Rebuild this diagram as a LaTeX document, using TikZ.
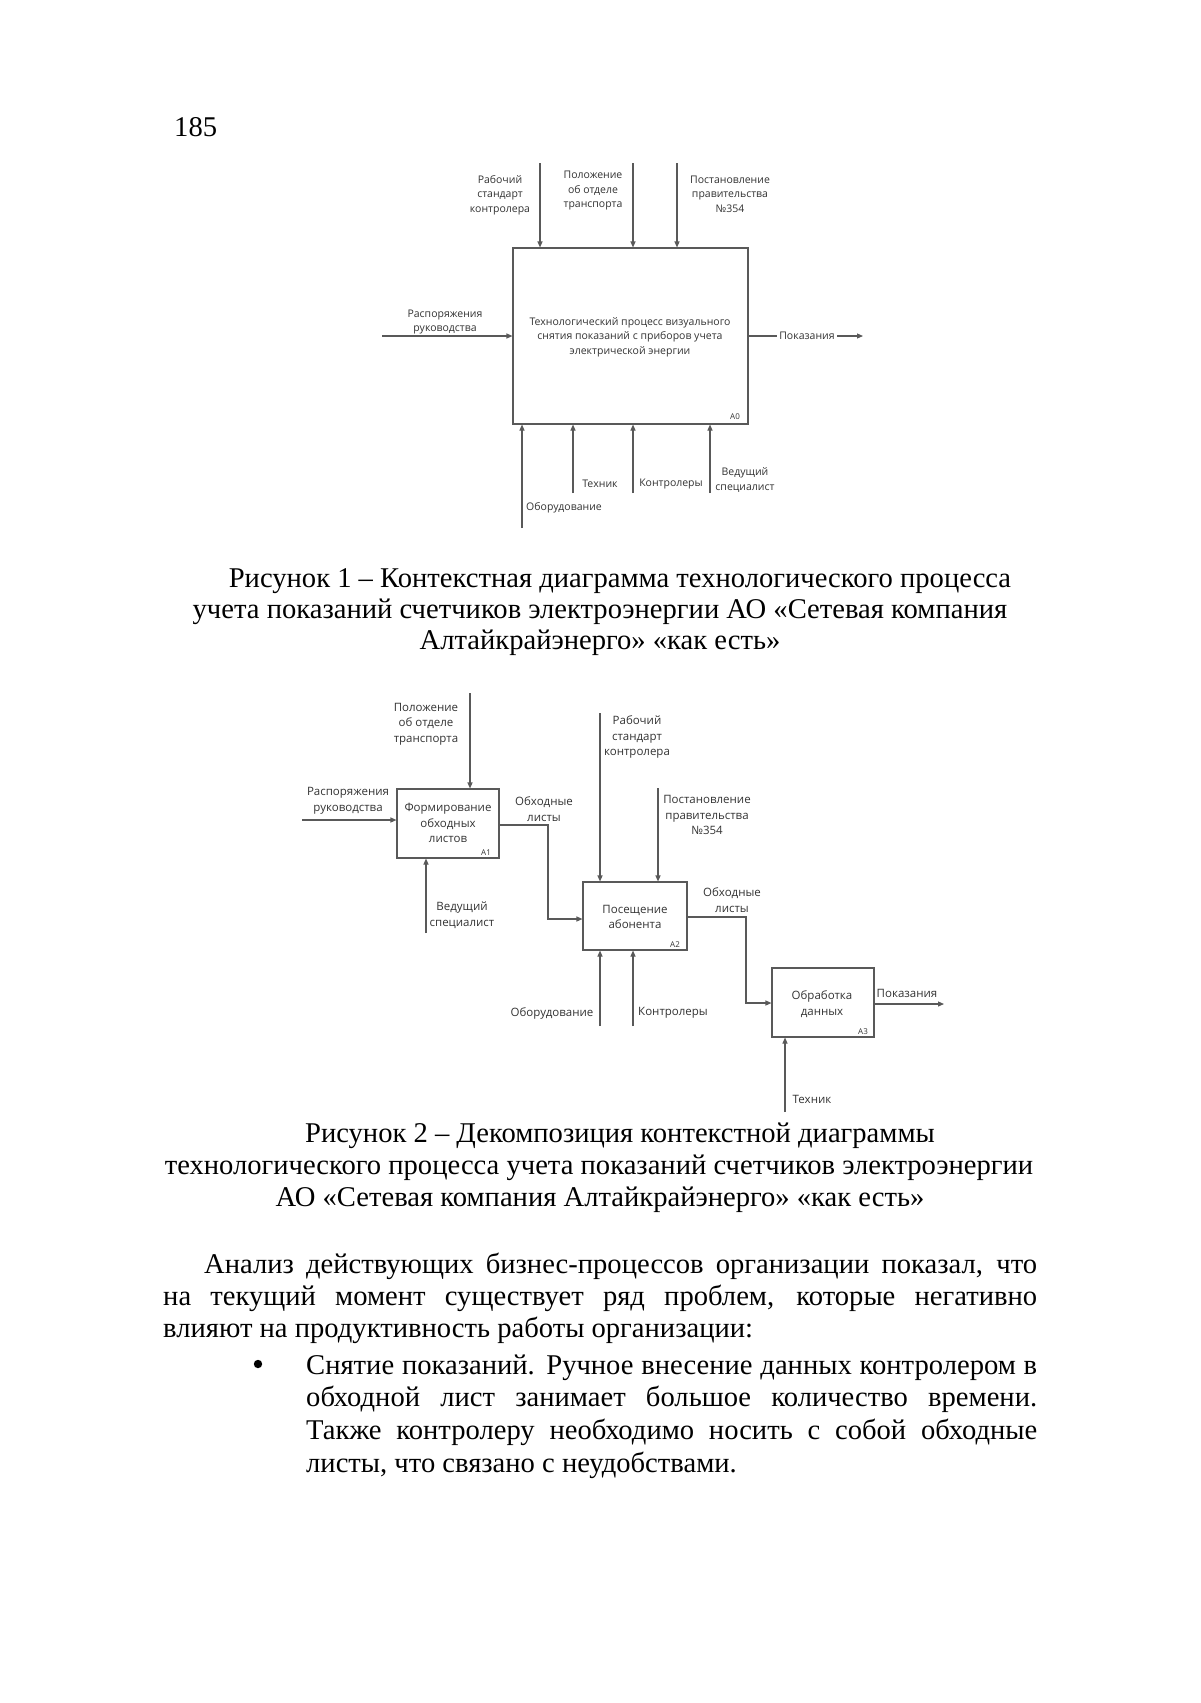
\documentclass[tikz,border=0pt]{standalone}
\usepackage{fontspec}
\setmainfont{Liberation Serif}
\newfontfamily\dfont{Open Sans}
\usetikzlibrary{arrows.meta}
\tikzset{
  ln/.style={draw=black!65, line width=1.1pt},
  arr/.style={ln, -{Triangle[length=6pt,width=5pt]}},
  fbox/.style={draw=black!65, line width=1.1pt, rectangle, inner sep=0pt},
  lblB/.style={font=\dfont\fontsize{11.5}{15.5}\selectfont, text=black!80, align=center, inner sep=0pt},
  lblA/.style={font=\dfont\fontsize{10.5}{14.5}\selectfont, text=black!80, align=center, inner sep=0pt},
  tagB/.style={font=\dfont\fontsize{8}{9}\selectfont, text=black!80, inner sep=0pt},
  pg/.style={font=\fontsize{28.6}{32}\selectfont, inner sep=0pt, anchor=base west},
  capt/.style={font=\fontsize{28.6}{32}\selectfont, inner sep=0pt, anchor=base},
}
\begin{document}
\begin{tikzpicture}[x=1pt,y=-1pt]
\useasboundingbox[fill=white] (0,0) rectangle (1200,1703);

% page number
\node[pg] (pnum) at (174,136) {185};

% ===== Diagram 1 =====
\node[fbox, minimum width=235pt, minimum height=176pt] (A0) at (630.5,336) {};
\node[lblA] (A0t) at (630,337) {Технологический процесс визуального\\снятия показаний с приборов учета\\электрической энергии};
\node[tagB] (A0n) at (735,417) {A0};

\coordinate (c1) at (540,163);
\coordinate (c2) at (633,163);
\coordinate (c3) at (677,163);
\draw[arr] (c1) -- (c1 |- A0.north);
\draw[arr] (c2) -- (c2 |- A0.north);
\draw[arr] (c3) -- (c3 |- A0.north);
\node[lblA] (l1) at (500,195) {Рабочий\\стандарт\\контролера};
\node[lblA] (l2) at (593,191) {Положение\\об отделе\\транспорта};
\node[lblA] (l3) at (730,194) {Постановление\\правительства\\№354};

\coordinate (i1) at (382,336);
\draw[arr] (i1) -- (A0.west);
\node[lblA] (l4) at (445,322) {Распоряжения\\руководства};

\coordinate (o1) at (863,336);
\draw[arr] (A0.east) -- (o1);
\node[lblA, fill=white, inner xsep=2pt, inner ysep=1pt] (l5) at (807,336) {Показания};

\coordinate (m1) at (522,528);
\coordinate (m2) at (573,493);
\coordinate (m3) at (633,493);
\coordinate (m4) at (710,493);
\draw[arr] (m1) -- (m1 |- A0.south);
\draw[arr] (m2) -- (m2 |- A0.south);
\draw[arr] (m3) -- (m3 |- A0.south);
\draw[arr] (m4) -- (m4 |- A0.south);
\node[lblA] (l6) at (600,484) {Техник};
\node[lblA] (l7) at (671,484) {Контролеры};
\node[lblA] (l8) at (745,480) {Ведущий\\специалист};
\node[lblA] (l9) at (564,508) {Оборудование};

% caption 1
\node[capt] (cap11) at (620,587) {Рисунок 1 – Контекстная диаграмма технологического процесса};
\node[capt] (cap12) at (600,618) {учета показаний счетчиков электроэнергии АО «Сетевая компания};
\node[capt] (cap13) at (600,649) {Алтайкрайэнерго» «как есть»};

% ===== Diagram 2 =====
\node[fbox, minimum width=102pt, minimum height=69pt] (A1) at (448,823.5) {};
\node[lblB] (A1t) at (448,823) {Формирование\\обходных\\листов};
\node[tagB] (A1n) at (486,853) {A1};

\node[fbox, minimum width=104pt, minimum height=68pt] (A2) at (635,916) {};
\node[lblB] (A2t) at (635,917) {Посещение\\абонента};
\node[tagB] (A2n) at (675,945) {A2};

\node[fbox, minimum width=102pt, minimum height=69pt] (A3) at (823,1002.5) {};
\node[lblB] (A3t) at (822,1004) {Обработка\\данных};
\node[tagB] (A3n) at (863,1032) {A3};

% A1 arrows
\coordinate (d1) at (302,820);
\draw[arr] (d1) -- (d1 -| A1.west);
\node[lblB] (k1) at (348,801) {Распоряжения\\руководства};
\coordinate (d2) at (470,693);
\draw[arr] (d2) -- (d2 |- A1.north);
\node[lblB] (k2) at (426,724) {Положение\\об отделе\\транспорта};
\coordinate (d3) at (426,933);
\draw[arr] (d3) -- (d3 |- A1.south);
\node[lblB] (k3) at (462,915) {Ведущий\\специалист};
\coordinate (e1) at (499,825);
\coordinate (e2) at (548,825);
\coordinate (e3) at (548,919);
\draw[arr] (e1) -- (e2) -- (e3) -- (e3 -| A2.west);
\node[lblB] (k4) at (544,809) {Обходные\\листы};

% A2 arrows
\coordinate (f1) at (600,713);
\draw[arr] (f1) -- (f1 |- A2.north);
\node[lblB] (k5) at (637,737) {Рабочий\\стандарт\\контролера};
\coordinate (f2) at (658,788);
\draw[arr] (f2) -- (f2 |- A2.north);
\node[lblB] (k6) at (707,815) {Постановление\\правительства\\№354};
\coordinate (f3) at (600,1026);
\coordinate (f4) at (633,1026);
\draw[arr] (f3) -- (f3 |- A2.south);
\draw[arr] (f4) -- (f4 |- A2.south);
\node[lblB] (k7) at (552,1013) {Оборудование};
\node[lblB] (k8) at (673,1013) {Контролеры};
\coordinate (g1) at (687,917);
\coordinate (g2) at (746,917);
\coordinate (g3) at (746,1003);
\draw[arr] (g1) -- (g2) -- (g3) -- (g3 -| A3.west);
\node[lblB] (k9) at (732,900) {Обходные\\листы};

% A3 arrows
\coordinate (h1) at (944,1004);
\draw[arr] (h1 -| A3.east) -- (h1);
\node[lblB] (k10) at (907,993) {Показания};
\coordinate (h2) at (785,1112);
\draw[arr] (h2) -- (h2 |- A3.south);
\node[lblB] (k11) at (812,1099) {Техник};

% caption 2
\node[capt] (cap21) at (620,1142) {Рисунок 2 – Декомпозиция контекстной диаграммы};
\node[capt] (cap22) at (599,1174) {технологического процесса учета показаний счетчиков электроэнергии};
\node[capt] (cap23) at (600,1206) {АО «Сетевая компания Алтайкрайэнерго» «как есть»};

% paragraph
\node[pg] (p1) at (204,1273) {\makebox[833pt][s]{Анализ действующих бизнес-процессов организации показал, что}};
\node[pg] (p2) at (163,1305) {\makebox[874pt][s]{на текущий момент существует ряд проблем, которые негативно}};
\node[pg] (p3) at (163,1337) {влияют на продуктивность работы организации:};
\fill[black] (258,1364) circle (4.2pt);
\node[pg] (b1) at (306,1374) {\makebox[731pt][s]{Снятие показаний. Ручное внесение данных контролером в}};
\node[pg] (b2) at (306,1406) {\makebox[731pt][s]{обходной лист занимает большое количество времени.}};
\node[pg] (b3) at (306,1439) {\makebox[731pt][s]{Также контролеру необходимо носить с собой обходные}};
\node[pg] (b4) at (306,1472) {листы, что связано с неудобствами.};
\end{tikzpicture}
\end{document}
